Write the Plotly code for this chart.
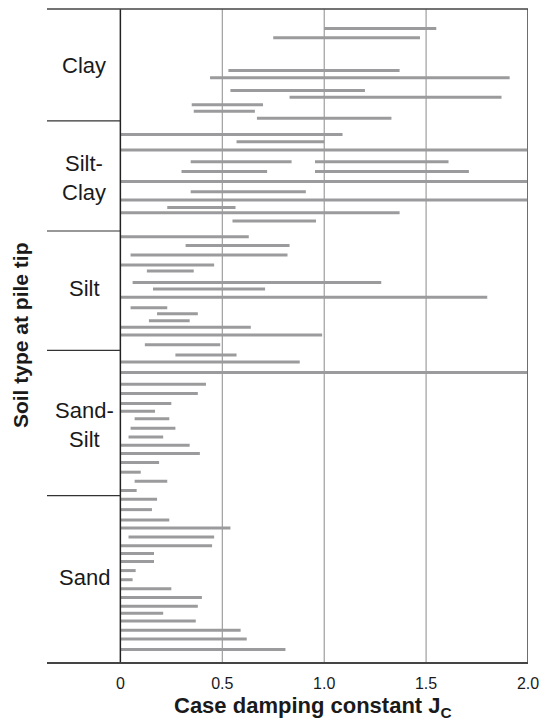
import plotly.graph_objects as go

# ---- data ----
soil_types = ["Clay", "Silt-<br>Clay", "Silt", "Sand-<br>Silt", "Sand"]
label_rows = [12.9, 38.9, 64.1, 95.6, 130.5]
category_bounds = [25.7, 51.0, 78.4, 111.8]

# each bar: row position (from top), Jc lower, Jc upper
clay_rows = [4.5, 6.6, 14.1, 15.8, 18.7, 20.3, 22.0, 23.5, 25.1]
clay_lo = [1.00, 0.75, 0.53, 0.44, 0.54, 0.83, 0.35, 0.36, 0.67]
clay_hi = [1.55, 1.47, 1.37, 1.91, 1.20, 1.87, 0.70, 0.66, 1.33]

siltclay_rows = [28.8, 30.5, 32.4, 35.1, 35.1, 37.3, 37.3, 39.6, 42.0, 43.9, 45.6, 46.8, 48.7]
siltclay_lo = [0.00, 0.57, 0.00, 0.345, 0.955, 0.30, 0.955, 0.00, 0.345, 0.00, 0.23, 0.00, 0.55]
siltclay_hi = [1.09, 1.00, 2.00, 0.84, 1.61, 0.72, 1.71, 2.00, 0.91, 2.00, 0.565, 1.37, 0.96]

silt_rows = [52.3, 54.3, 56.5, 58.8, 60.2, 62.8, 64.3, 66.2, 68.6, 70.0, 71.6, 73.1, 74.9, 77.1]
silt_lo = [0.00, 0.32, 0.05, 0.00, 0.13, 0.06, 0.16, 0.00, 0.05, 0.18, 0.14, 0.00, 0.00, 0.12]
silt_hi = [0.63, 0.83, 0.82, 0.46, 0.36, 1.28, 0.71, 1.80, 0.23, 0.38, 0.34, 0.64, 0.99, 0.49]

sandsilt_rows = [79.5, 81.1, 83.5, 86.2, 88.3, 90.6, 92.4, 94.1, 96.3, 98.3, 100.2, 102.1, 104.2, 106.4, 108.5, 110.6]
sandsilt_lo = [0.27, 0.00, 0.00, 0.00, 0.00, 0.00, 0.00, 0.07, 0.05, 0.04, 0.00, 0.00, 0.00, 0.00, 0.07, 0.00]
sandsilt_hi = [0.57, 0.88, 2.00, 0.42, 0.38, 0.25, 0.17, 0.24, 0.27, 0.21, 0.34, 0.39, 0.19, 0.10, 0.23, 0.08]

sand_rows = [112.6, 115.0, 117.4, 119.2, 121.3, 123.3, 125.1, 126.9, 129.0, 131.1, 133.2, 135.2, 137.2, 138.8, 140.6, 142.7, 144.7, 147.1]
sand_lo = [0.00, 0.00, 0.00, 0.00, 0.04, 0.00, 0.00, 0.00, 0.00, 0.00, 0.00, 0.00, 0.00, 0.00, 0.00, 0.00, 0.00, 0.00]
sand_hi = [0.18, 0.155, 0.24, 0.54, 0.46, 0.45, 0.165, 0.165, 0.075, 0.06, 0.25, 0.40, 0.38, 0.21, 0.37, 0.59, 0.62, 0.81]

x_ticks = [0, 0.5, 1.0, 1.5, 2.0]
x_ticktext = ["0", "0.5", "1.0", "1.5", "2.0"]

# ---- build ----
FONT = "Liberation Sans, Arial, Helvetica, sans-serif"
BAR = "#9b9b9d"

rows = clay_rows + siltclay_rows + silt_rows + sandsilt_rows + sand_rows
lo = clay_lo + siltclay_lo + silt_lo + sandsilt_lo + sand_lo
hi = clay_hi + siltclay_hi + silt_hi + sandsilt_hi + sand_hi

xs, ys = [], []
for r, a, b in zip(rows, lo, hi):
    xs += [a, b, None]
    ys += [r, r, None]

fig = go.Figure()
fig.add_trace(go.Scatter(x=xs, y=ys, mode="lines",
                         line=dict(color=BAR, width=3), hoverinfo="skip",
                         showlegend=False))

shapes = []
# grid lines (0.5, 1.0, 1.5)
for t in x_ticks[1:-1]:
    shapes.append(dict(type="line", xref="x", yref="paper", x0=t, x1=t, y0=0, y1=1,
                       line=dict(color="#8a8a8a", width=1), layer="below"))
# right border at 2.0
shapes.append(dict(type="line", xref="x", yref="paper", x0=x_ticks[-1], x1=x_ticks[-1], y0=0, y1=1,
                   line=dict(color="#6e6e6e", width=2), layer="above"))
# left axis at 0
shapes.append(dict(type="line", xref="x", yref="paper", x0=0, x1=0, y0=0, y1=1,
                   line=dict(color="#222222", width=1.5), layer="above"))
# top border
shapes.append(dict(type="line", xref="paper", yref="paper", x0=0, x1=1, y0=1, y1=1,
                   line=dict(color="#444444", width=1.5), layer="above"))
# category separators (from left edge to x=0)
for b in category_bounds:
    shapes.append(dict(type="line", xref="x", yref="y", x0=-0.36, x1=0, y0=b, y1=b,
                       line=dict(color="#333333", width=1.2)))

annotations = []
for name, r in zip(soil_types, label_rows):
    annotations.append(dict(x=-0.178, y=r, xref="x", yref="y", text=name,
                            showarrow=False, xanchor="center", yanchor="middle",
                            font=dict(family=FONT, size=22, color="#1a1a1a")))
annotations.append(dict(x=-0.055, y=0.5, xref="paper", yref="paper",
                        text="<b>Soil type at pile tip</b>", textangle=-90,
                        showarrow=False, xanchor="center", yanchor="middle",
                        font=dict(family=FONT, size=21, color="#1a1a1a")))
annotations.append(dict(x=0.553, y=-0.044, xref="paper", yref="paper",
                        text="<b>Case damping constant J<sub>C</sub></b>",
                        showarrow=False, xanchor="center", yanchor="top",
                        font=dict(family=FONT, size=22, color="#1a1a1a")))

fig.update_layout(
    width=547, height=724,
    margin=dict(l=47, r=19, t=9, b=62),
    plot_bgcolor="white", paper_bgcolor="white",
    shapes=shapes, annotations=annotations,
    xaxis=dict(range=[-0.36, 2.0], tickvals=x_ticks, ticktext=x_ticktext,
               showgrid=False, zeroline=False, showline=True,
               linecolor="#444444", linewidth=1.5, ticks="",
               ticklabelstandoff=6,
               tickfont=dict(family=FONT, size=16, color="#1a1a1a")),
    yaxis=dict(range=[150, 0], showgrid=False, zeroline=False,
               showticklabels=False, ticks="", showline=False),
)

fig.write_html("out.html", config={"displayModeBar": False},
               post_script="document.body.style.margin='0';document.body.style.overflow='hidden';")
